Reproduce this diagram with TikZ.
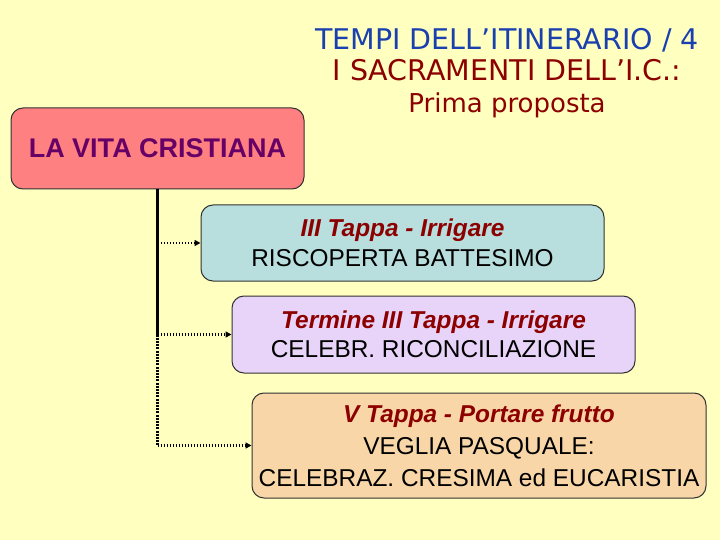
\documentclass[tikz,border=0pt]{standalone}
\usepackage{fontspec}
\setmainfont{Liberation Sans}
\newfontfamily\titlefont{DejaVu Sans}
\usetikzlibrary{arrows.meta}
\definecolor{bg}{RGB}{255,255,192}
\definecolor{vitafill}{RGB}{255,128,128}
\definecolor{vitatext}{RGB}{102,0,102}
\definecolor{fillA}{RGB}{184,222,222}
\definecolor{fillB}{RGB}{232,212,248}
\definecolor{fillC}{RGB}{248,214,168}
\definecolor{titleblue}{RGB}{26,64,176}
\definecolor{darkred}{RGB}{140,0,0}
\definecolor{edge}{RGB}{50,50,50}
\newcommand\subtxt[1]{{\bfseries\itshape\color{darkred}#1}}
\tikzset{
  roundbox/.style={draw=edge, line width=1pt, rounded corners=12pt, inner sep=0pt, align=center,
    font=\fontsize{24.4}{29.5}\selectfont},
  trunk/.style={line width=3pt},
  trunkdot/.style={line width=3pt, dash pattern=on 2pt off 1.2pt},
  dotarrow/.style={line width=2.6pt, dash pattern=on 1.8pt off 1.2pt, -{Triangle[length=6pt,width=6pt]}}
}
\begin{document}
\begin{tikzpicture}[x=1pt,y=-1pt]
\fill[bg] (0,0) rectangle (720,540);
\useasboundingbox (0,0) rectangle (720,540);

\node[align=center, inner sep=0pt, font=\titlefont\fontsize{28.5}{31.5}\selectfont] (title) at (507,73)
  {\textcolor{titleblue}{TEMPI DELL’ITINERARIO / 4}\\
   \textcolor{darkred}{I SACRAMENTI DELL’I.C.:}\\
   \textcolor{darkred}{\fontsize{26}{31.5}\selectfont Prima proposta}};

\node[roundbox, fill=vitafill, text=vitatext, minimum width=293pt, minimum height=81pt,
  font=\fontsize{27}{32}\selectfont\bfseries] (vita) at (157.5,148.5) {LA VITA CRISTIANA};

\node[roundbox, fill=fillA, minimum width=403pt, minimum height=76pt] (b1) at (402.5,243)
  {\subtxt{III Tappa - Irrigare}\\RISCOPERTA BATTESIMO};
\node[roundbox, fill=fillB, minimum width=403pt, minimum height=77pt] (b2) at (433.5,334.5)
  {\subtxt{Termine III Tappa - Irrigare}\\CELEBR. RICONCILIAZIONE};
\node[roundbox, fill=fillC, minimum width=454pt, minimum height=105pt,
  font=\fontsize{24.4}{32}\selectfont] (b3) at (479,445.5)
  {\subtxt{V Tappa - Portare frutto}\\VEGLIA PASQUALE:\\CELEBRAZ. CRESIMA ed EUCARISTIA};

\coordinate (j2) at (vita.south |- b2.west);
\coordinate (j3) at (vita.south |- b3.west);
\draw[trunk] (vita.south) -- (j2);
\draw[trunkdot] (j2) -- (j3);
\draw[dotarrow] (vita.south |- b1.west) -- (b1.west);
\draw[dotarrow] (j2) -- (b2.west);
\draw[dotarrow] (j3) -- (b3.west);
\end{tikzpicture}
\end{document}
